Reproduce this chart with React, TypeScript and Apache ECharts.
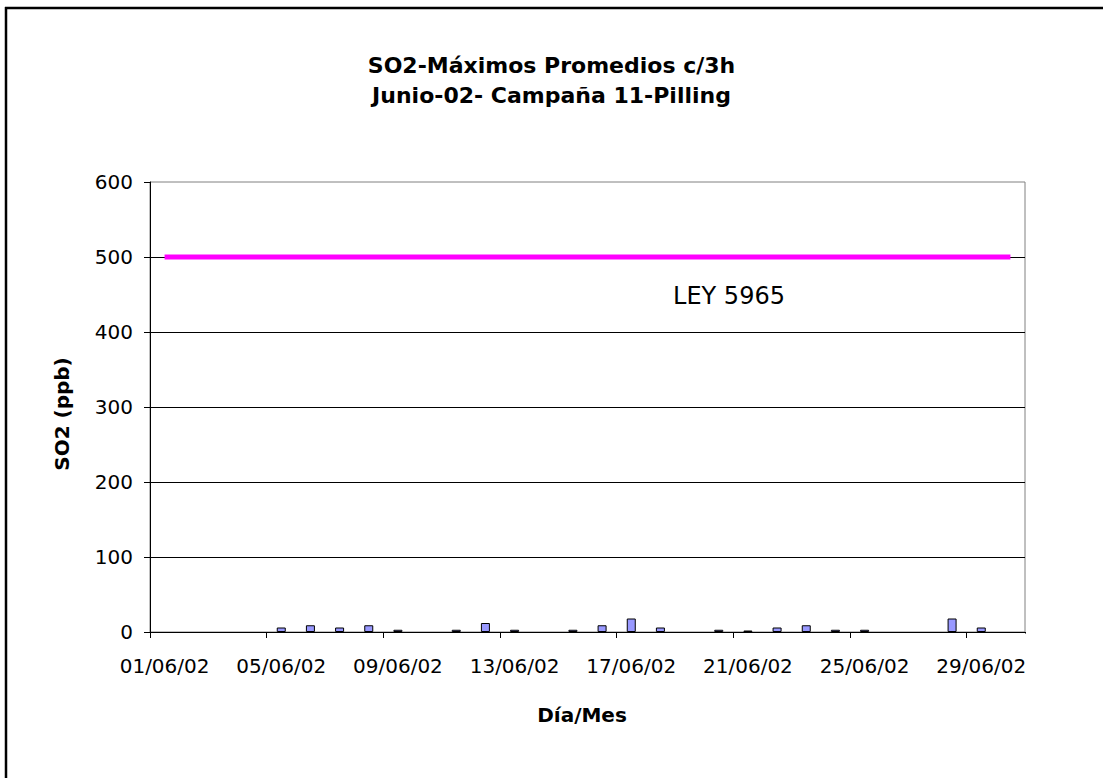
import React, { useEffect, useRef } from "react";
import * as echarts from "echarts";

const categories = [
  "01/06/02", "02/06/02", "03/06/02", "04/06/02", "05/06/02", "06/06/02",
  "07/06/02", "08/06/02", "09/06/02", "10/06/02", "11/06/02", "12/06/02",
  "13/06/02", "14/06/02", "15/06/02", "16/06/02", "17/06/02", "18/06/02",
  "19/06/02", "20/06/02", "21/06/02", "22/06/02", "23/06/02", "24/06/02",
  "25/06/02", "26/06/02", "27/06/02", "28/06/02", "29/06/02", "30/06/02",
];

const so2Max = [
  null, null, null, null, 6, 9, 6, 9, 3, null,
  3, 12, 3, null, 3, 9, 18, 6, null, 3,
  2, 6, 9, 3, 3, null, null, 18, 6, null,
];

const leyLimit = [
  500, 500, 500, 500, 500, 500, 500, 500, 500, 500,
  500, 500, 500, 500, 500, 500, 500, 500, 500, 500,
  500, 500, 500, 500, 500, 500, 500, 500, 500, 500,
];

const titleLines = ["SO2-Máximos Promedios c/3h", "Junio-02- Campaña 11-Pilling"];
const xAxisTitle = "Día/Mes";
const yAxisTitle = "SO2 (ppb)";
const limitLabel = "LEY 5965";

const FONT = '"DejaVu Sans", "Liberation Sans", Arial, sans-serif';

export default function App() {
  const ref = useRef<HTMLDivElement>(null);

  useEffect(() => {
    const chart = echarts.init(ref.current!, null, { renderer: "svg" });
    chart.setOption({
      animation: false,
      backgroundColor: "#ffffff",
      title: {
        text: titleLines.join("\n"),
        left: "center",
        top: 45,
        textStyle: {
          fontFamily: FONT,
          fontSize: 22,
          fontWeight: "bold",
          lineHeight: 30,
          color: "#000",
        },
      },
      grid: {
        left: 150,
        right: 78,
        top: 182,
        bottom: 146,
        show: true,
        borderColor: "#808080",
        borderWidth: 1,
        backgroundColor: "transparent",
      },
      xAxis: {
        type: "category",
        data: categories,
        boundaryGap: true,
        axisLine: { show: true, lineStyle: { color: "#000", width: 1 } },
        axisTick: { show: true, interval: 3, length: 6, alignWithLabel: false, lineStyle: { color: "#000" } },
        axisLabel: {
          interval: 3,
          margin: 24,
          color: "#000",
          fontFamily: FONT,
          fontSize: 20,
        },
        splitLine: { show: false },
      },
      yAxis: {
        type: "value",
        min: 0,
        max: 600,
        interval: 100,
        axisLine: { show: true, lineStyle: { color: "#000", width: 1 } },
        axisTick: { show: true, length: 6, lineStyle: { color: "#000" } },
        axisLabel: {
          margin: 17,
          color: "#000",
          fontFamily: FONT,
          fontSize: 20,
        },
        splitLine: {
          show: true,
          showMaxLine: false,
          lineStyle: { color: "#000", width: 1 },
        },
      },
      series: [
        {
          name: "SO2",
          type: "bar",
          data: so2Max,
          barWidth: 9,
          itemStyle: { color: "#9999FF", borderColor: "#000", borderWidth: 1 },
          z: 3,
        },
        {
          name: "LEY 5965",
          type: "line",
          data: leyLimit,
          symbol: "none",
          lineStyle: { color: "#FF00FF", width: 5 },
          z: 4,
        },
      ],
      graphic: [
        {
          type: "line",
          shape: { x1: 6, y1: 7, x2: 6, y2: 778 },
          style: { stroke: "#000", lineWidth: 2.5 },
          silent: true,
        },
        {
          type: "line",
          shape: { x1: 5, y1: 8, x2: 1103, y2: 8 },
          style: { stroke: "#000", lineWidth: 2.5 },
          silent: true,
        },
        {
          type: "rect",
          shape: { x: 1021, y: 633.5, width: 8, height: 8 },
          style: { fill: "#fff" },
          z: 100,
          silent: true,
        },
        {
          type: "text",
          x: 582,
          y: 715,
          style: {
            text: xAxisTitle,
            fontFamily: FONT,
            fontSize: 20,
            fontWeight: "bold",
            fill: "#000",
            align: "center",
            verticalAlign: "middle",
          },
        },
        {
          type: "text",
          x: 62,
          y: 414,
          rotation: Math.PI / 2,
          style: {
            text: yAxisTitle,
            fontFamily: FONT,
            fontSize: 20,
            fontWeight: "bold",
            fill: "#000",
            align: "center",
            verticalAlign: "middle",
          },
        },
        {
          type: "text",
          x: 729,
          y: 296,
          style: {
            text: limitLabel,
            fontFamily: FONT,
            fontSize: 24,
            fill: "#000",
            align: "center",
            verticalAlign: "middle",
          },
        },
      ],
    });
    return () => chart.dispose();
  }, []);

  return (
    <div
      ref={ref}
      style={{ position: "absolute", left: 0, top: 0, width: 1103, height: 778, background: "#fff" }}
    />
  );
}
